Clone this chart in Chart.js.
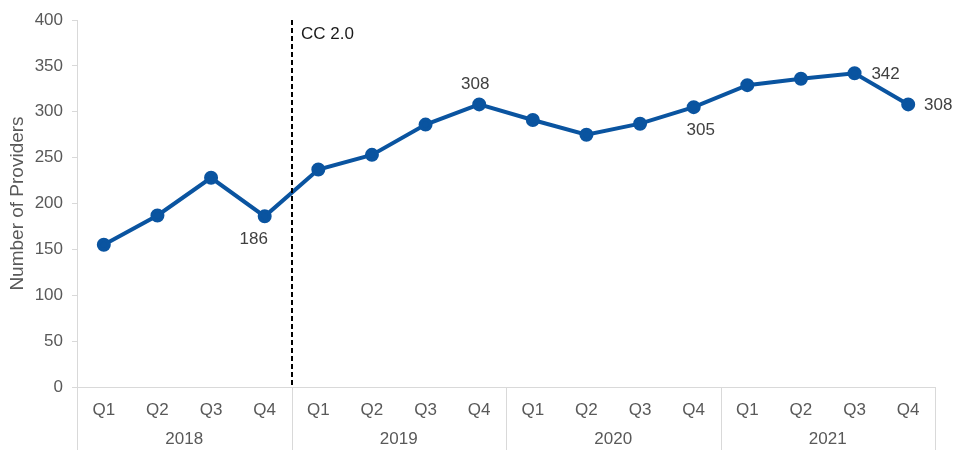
<!DOCTYPE html>
<html>
<head>
<meta charset="utf-8">
<script src="https://cdn.jsdelivr.net/npm/chart.js@4"></script>
<style>
  html, body { margin: 0; padding: 0; background: #ffffff; }
  #wrap { width: 956px; height: 450px; position: relative; }
</style>
</head>
<body>
<div id="wrap"><canvas id="c" width="956" height="450"></canvas></div>
<script>
const quarters = ['Q1','Q2','Q3','Q4','Q1','Q2','Q3','Q4','Q1','Q2','Q3','Q4','Q1','Q2','Q3','Q4'];
const years = ['2018','2019','2020','2021'];
const providers = [155, 187, 228, 186, 237, 253, 286, 308, 291, 275, 287, 305, 329, 336, 342, 308];
const yTicks = [0, 50, 100, 150, 200, 250, 300, 350, 400];
const labelledIdx = [3, 7, 11, 14, 15];
const markerAfterIdx = 3;
const markerText = 'CC 2.0';
const yTitle = 'Number of Providers';

// label placement (style, not data): offsets from the point in pixels
const labelOffsets = { 3: [-11, 23], 7: [-4, -20], 11: [7, 23], 14: [31, 1], 15: [30, 1] };

const FONT = "'Liberation Sans', Arial, sans-serif";
const GREY = '#595959';
const AXIS = '#d9d9d9';
const BLUE = '#0a54a0';

const overlay = {
  id: 'overlay',
  afterDraw(chart) {
    const ctx = chart.ctx;
    const x = chart.scales.x;
    const y = chart.scales.y;
    const area = chart.chartArea;
    const px = i => x.getPixelForValue(i);
    const half = (px(1) - px(0)) / 2;
    ctx.save();
    // year separators below the axis
    ctx.strokeStyle = AXIS;
    ctx.lineWidth = 1;
    for (let i = 0; i <= quarters.length; i += 4) {
      const bx = Math.round(px(Math.min(i, quarters.length - 1)) + (i === quarters.length ? half : -half)) + 0.5;
      ctx.beginPath();
      ctx.moveTo(bx, area.bottom);
      ctx.lineTo(bx, chart.height);
      ctx.stroke();
    }
    // CC 2.0 dashed marker
    const mx = Math.round((px(markerAfterIdx) + px(markerAfterIdx + 1)) / 2);
    ctx.strokeStyle = '#000000';
    ctx.lineWidth = 2;
    ctx.setLineDash([5, 3]);
    ctx.beginPath();
    ctx.moveTo(mx, area.top);
    ctx.lineTo(mx, area.bottom);
    ctx.stroke();
    ctx.setLineDash([]);
    ctx.fillStyle = '#1a1a1a';
    ctx.font = '17px ' + FONT;
    ctx.textAlign = 'left';
    ctx.textBaseline = 'middle';
    ctx.fillText(markerText, mx + 9, area.top + 14);
    // data labels
    ctx.fillStyle = '#404040';
    ctx.font = '17px ' + FONT;
    ctx.textAlign = 'center';
    labelledIdx.forEach(i => {
      const off = labelOffsets[i];
      ctx.fillText(String(providers[i]), px(i) + off[0], y.getPixelForValue(providers[i]) + off[1]);
    });
    ctx.restore();
  }
};

new Chart(document.getElementById('c'), {
  type: 'line',
  data: {
    labels: quarters,
    datasets: [{
      data: providers,
      borderColor: BLUE,
      backgroundColor: BLUE,
      borderWidth: 4,
      pointRadius: 5,
      pointHoverRadius: 5,
      pointBackgroundColor: BLUE,
      pointBorderColor: BLUE,
      tension: 0
    }]
  },
  options: {
    responsive: false,
    animation: false,
    events: [],
    layout: { padding: { left: 0, right: 21, top: 20, bottom: 0 } },
    plugins: { legend: { display: false }, tooltip: { enabled: false } },
    scales: {
      x: {
        type: 'category',
        offset: true,
        grid: { display: false, drawTicks: false },
        border: { display: true, color: AXIS, width: 1 },
        ticks: { color: GREY, font: { family: FONT, size: 17 }, padding: 13, maxRotation: 0, autoSkip: false },
        afterFit(s) { s.height = 38; }
      },
      x2: {
        type: 'category',
        labels: years,
        position: 'bottom',
        offset: true,
        grid: { display: false, drawTicks: false },
        border: { display: false },
        ticks: { color: GREY, font: { family: FONT, size: 17 }, padding: 4, maxRotation: 0, autoSkip: false },
        afterFit(s) { s.height = 25; }
      },
      y: {
        min: 0,
        max: 400,
        afterBuildTicks(s) { s.ticks = yTicks.map(v => ({ value: v })); },
        grid: { display: true, drawOnChartArea: false, drawTicks: true, tickLength: 5, color: AXIS },
        border: { display: true, color: AXIS, width: 1 },
        ticks: { color: GREY, font: { family: FONT, size: 17 }, padding: 9 },
        title: { display: true, text: yTitle, color: GREY, font: { family: FONT, size: 19 }, padding: { top: 6, bottom: 0 } },
        afterFit(s) { s.width = 77; }
      }
    }
  },
  plugins: [overlay]
});
</script>
</body>
</html>
